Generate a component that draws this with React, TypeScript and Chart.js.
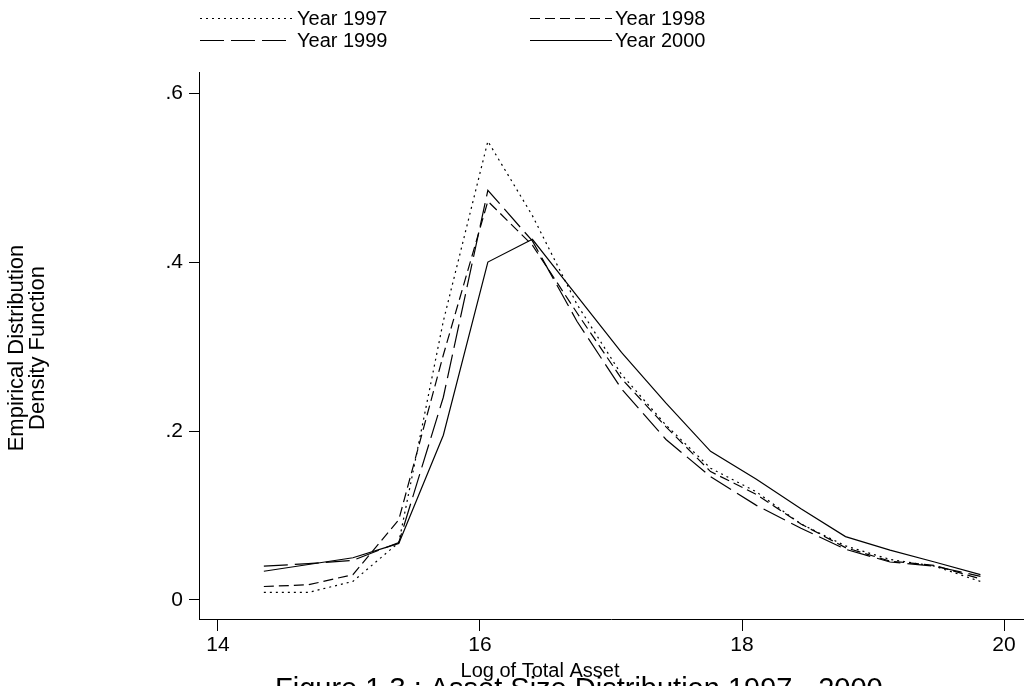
import React, { useEffect, useRef } from 'react';
import { Chart, registerables } from 'chart.js';

Chart.register(...registerables);

// ---- data ----
const logAsset = [14.35, 14.69, 15.03, 15.38, 15.72, 16.06, 16.40, 16.74, 17.08, 17.42, 17.76, 18.11, 18.45, 18.79, 19.13, 19.47, 19.82];
const year1997 = [0.009, 0.009, 0.022, 0.068, 0.33, 0.543, 0.455, 0.35, 0.267, 0.207, 0.156, 0.128, 0.09, 0.064, 0.048, 0.040, 0.022];
const year1998 = [0.016, 0.018, 0.030, 0.095, 0.29, 0.472, 0.42, 0.34, 0.262, 0.205, 0.152, 0.125, 0.09, 0.062, 0.046, 0.041, 0.025];
const year1999 = [0.040, 0.043, 0.047, 0.068, 0.24, 0.485, 0.425, 0.33, 0.250, 0.190, 0.146, 0.112, 0.085, 0.060, 0.045, 0.040, 0.028];
const year2000 = [0.034, 0.042, 0.050, 0.067, 0.195, 0.40, 0.427, 0.36, 0.293, 0.233, 0.176, 0.143, 0.108, 0.075, 0.059, 0.045, 0.030];
const seriesNames = ['Year 1997', 'Year 1998', 'Year 1999', 'Year 2000'];
const xTicks = [14, 16, 18, 20];
const yTicks = [0, 0.2, 0.4, 0.6];
const yTickLabels = ['0', '.2', '.4', '.6'];
const xTitle = 'Log of Total Asset';
const yTitleLines = ['Empirical Distribution', 'Density Function'];
const caption = 'Figure 1.3 : Asset Size Distribution 1997 - 2000';

const FONT = "'Liberation Sans', Arial, Helvetica, sans-serif";
const dashes: number[][] = [[2, 4], [10, 5], [24, 7], []];

const textPlugin = {
  id: 'textPlugin',
  afterDraw(chart: any) {
    const ctx = chart.ctx as CanvasRenderingContext2D;
    ctx.save();
    ctx.fillStyle = '#000';
    // legend
    const entries = [
      { x0: 200, x1: 293, tx: 297, y: 18 },
      { x0: 530, x1: 612, tx: 615, y: 18 },
      { x0: 200, x1: 293, tx: 297, y: 40 },
      { x0: 530, x1: 612, tx: 615, y: 40 },
    ];
    entries.forEach((e, i) => {
      const ds = chart.data.datasets[i];
      ctx.strokeStyle = '#000';
      ctx.lineWidth = 1.2;
      ctx.setLineDash(ds.borderDash || []);
      ctx.beginPath();
      ctx.moveTo(e.x0, e.y + 0.5);
      ctx.lineTo(e.x1, e.y + 0.5);
      ctx.stroke();
      ctx.setLineDash([]);
      ctx.font = `20px ${FONT}`;
      ctx.textAlign = 'left';
      ctx.textBaseline = 'middle';
      ctx.fillText(ds.label, e.tx, e.y + 1);
    });
    // x title
    ctx.font = `20px ${FONT}`;
    ctx.textAlign = 'center';
    ctx.textBaseline = 'alphabetic';
    ctx.fillText(xTitle, 540, 677);
    // caption
    ctx.font = `29px ${FONT}`;
    ctx.textAlign = 'left';
    ctx.fillText(caption, 275, 698);
    // y title
    ctx.save();
    ctx.translate(0, 348);
    ctx.rotate(-Math.PI / 2);
    ctx.font = `22px ${FONT}`;
    ctx.textAlign = 'center';
    ctx.textBaseline = 'middle';
    ctx.fillText(yTitleLines[0], 0, 17);
    ctx.fillText(yTitleLines[1], 0, 38);
    ctx.restore();
    ctx.restore();
  },
};

export default function App() {
  const ref = useRef<HTMLCanvasElement>(null);
  useEffect(() => {
    if (!ref.current) return;
    const series = [year1997, year1998, year1999, year2000];
    const chart = new Chart(ref.current, {
      type: 'line',
      data: {
        datasets: series.map((s, i) => ({
          label: seriesNames[i],
          data: logAsset.map((x, j) => ({ x, y: s[j] })),
          borderColor: '#000',
          borderWidth: 1.2,
          borderDash: dashes[i],
          pointRadius: 0,
          fill: false,
          tension: 0,
        })),
      },
      options: {
        animation: false,
        responsive: false,
        devicePixelRatio: 1,
        layout: { padding: { top: 72, right: 5, left: 0, bottom: 0 } },
        plugins: { legend: { display: false }, tooltip: { enabled: false } },
        scales: {
          x: {
            type: 'linear',
            min: 13.855,
            max: 20.145,
            afterBuildTicks: (s: any) => { s.ticks = xTicks.map((v) => ({ value: v })); },
            afterFit: (s: any) => { s.height = 67; },
            ticks: { color: '#000', font: { family: FONT, size: 21 }, padding: 2, maxRotation: 0 },
            grid: { drawOnChartArea: false, tickLength: 12, color: '#000' },
            border: { color: '#000', width: 1 },
          },
          y: {
            type: 'linear',
            min: -0.0225,
            max: 0.625,
            afterBuildTicks: (s: any) => { s.ticks = yTicks.map((v) => ({ value: v })); },
            afterFit: (s: any) => { s.width = 199; },
            ticks: {
              color: '#000',
              font: { family: FONT, size: 21 },
              padding: 6,
              callback: (v: any) => {
                const k = yTicks.findIndex((t) => Math.abs(t - v) < 1e-9);
                return k >= 0 ? yTickLabels[k] : '';
              },
            },
            grid: { drawOnChartArea: false, tickLength: 10, color: '#000' },
            border: { color: '#000', width: 1 },
          },
        },
      },
      plugins: [textPlugin],
    });
    return () => chart.destroy();
  }, []);
  return (
    <div style={{ position: 'fixed', left: 0, top: 0, width: 1028, height: 686, background: '#fff' }}>
      <canvas ref={ref} width={1028} height={686} style={{ display: 'block' }} />
    </div>
  );
}
